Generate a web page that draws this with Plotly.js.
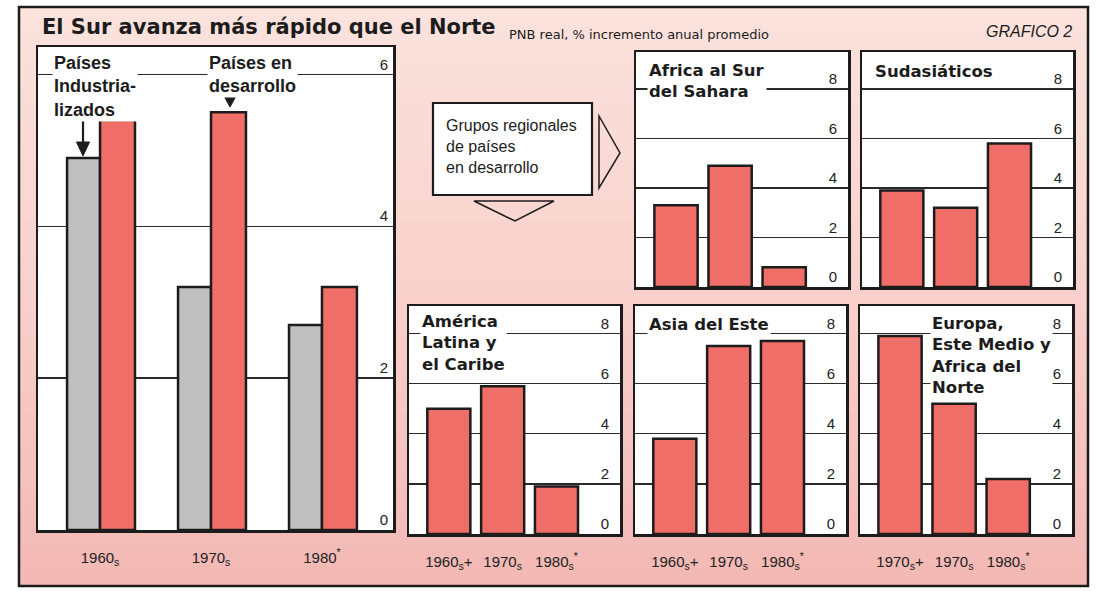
<!DOCTYPE html>
<html><head><meta charset="utf-8">
<script src="https://cdn.plot.ly/plotly-3.0.1.min.js"></script>
<style>html,body{margin:0;padding:0;background:#fff;} #chart{width:1109px;height:591px;}</style>
</head><body><div id="chart"></div>
<script>
// ---------------- data ----------------
const mainCategories = ['1960s', '1970s', '1980*'];
const mainTickLabels = ['1960<sub>s</sub>', '1970<sub>s</sub>', '1980<sup>*</sup>'];
const paisesIndustrializados = [4.9, 3.2, 2.7];
const paisesEnDesarrollo = [5.4, 5.5, 3.2];

const regionCategories = ['1960s+', '1970s', '1980s*'];
const regionTickLabels = ['1960<sub>s</sub>+', '1970<sub>s</sub>', '1980<sub>s</sub><sup>*</sup>'];
const europaCategories = ['1970s+', '1970s', '1980s*'];
const europaTickLabels = ['1970<sub>s</sub>+', '1970<sub>s</sub>', '1980<sub>s</sub><sup>*</sup>'];

const africaSurSahara = [3.3, 4.9, 0.8];
const sudasiaticos = [3.9, 3.2, 5.8];
const americaLatinaCaribe = [5.0, 5.9, 1.9];
const asiaDelEste = [3.8, 7.5, 7.7];
const europaEsteMedioAfricaNorte = [7.9, 5.2, 2.2];

const mainTickVals = [0, 2, 4, 6];
const regionTickVals = [0, 2, 4, 6, 8];

// ---------------- layout helpers ----------------
const W = 1109, H = 591;
const px = v => v / W;
const py = v => 1 - v / H;

const RED = '#f06e68', GREY = '#c0c0c0', INK = '#1c1c1c';
const SANS = 'Liberation Sans, Arial, sans-serif';
const WIDE = 'DejaVu Sans, Verdana, sans-serif';

function xAxis(x0, x1, yId, range, cats, labels, showLabels) {
  return {
    domain: [px(x0), px(x1)], anchor: yId, type: 'category', range: range,
    tickvals: cats, ticktext: labels, showticklabels: showLabels,
    ticks: '', ticklabelstandoff: 12, showgrid: false, zeroline: false,
    showline: true, mirror: true, linecolor: INK, linewidth: 2.5,
    tickfont: {family: SANS, size: 15, color: '#222'}, fixedrange: true
  };
}
function yAxis(y0, y1, xId, range, vals, standoff) {
  return {
    domain: [py(y1), py(y0)], anchor: xId, range: range, side: 'right',
    tickvals: vals, ticktext: vals.map(String), ticks: '',
    ticklabelposition: 'inside', ticklabelshift: -10, ticklabelstandoff: standoff,
    ticklabeloverflow: 'allow',
    showgrid: true, gridcolor: '#2a2a2a', gridwidth: 1.3, zeroline: false,
    showline: true, mirror: true, linecolor: INK, linewidth: 2.5,
    tickfont: {family: SANS, size: 15, color: '#222'}, fixedrange: true
  };
}

const barLine = {color: INK, width: 2.5};
function regionBar(cats, vals, n) {
  return {type: 'bar', x: cats, y: vals, xaxis: 'x' + n, yaxis: 'y' + n,
          width: 0.8, marker: {color: RED, line: barLine}, hoverinfo: 'skip'};
}

const traces = [
  {type: 'bar', x: mainCategories, y: paisesIndustrializados, xaxis: 'x', yaxis: 'y',
   width: 0.297, offset: -0.297, marker: {color: GREY, line: barLine}, hoverinfo: 'skip'},
  {type: 'bar', x: mainCategories, y: paisesEnDesarrollo, xaxis: 'x', yaxis: 'y',
   width: 0.315, offset: 0, marker: {color: RED, line: barLine}, hoverinfo: 'skip'},
  regionBar(regionCategories, africaSurSahara, 2),
  regionBar(regionCategories, sudasiaticos, 3),
  regionBar(regionCategories, americaLatinaCaribe, 4),
  regionBar(regionCategories, asiaDelEste, 5),
  regionBar(europaCategories, europaEsteMedioAfricaNorte, 6)
];

const smallRange = [-0.74, 3.18];
const layout = {
  width: W, height: H, autosize: false,
  margin: {l: 0, r: 0, t: 0, b: 0},
  paper_bgcolor: '#ffffff', plot_bgcolor: '#ffffff',
  showlegend: false, barmode: 'overlay', hovermode: false,
  title: {text: 'El Sur avanza más rápido que el Norte', x: px(42), xanchor: 'left', xref: 'paper',
          y: py(27), yanchor: 'middle', yref: 'container',
          font: {family: WIDE, size: 21, weight: 'bold', color: INK}},
  xaxis:  xAxis(38, 393, 'y', [-0.559, 2.64], mainCategories, mainTickLabels, true),
  yaxis:  yAxis(47, 530, 'x', [0, 6.36], mainTickVals, 5),
  xaxis2: xAxis(636, 848, 'y2', smallRange, regionCategories, regionTickLabels, false),
  yaxis2: yAxis(52, 287, 'x2', [0, 9.5], regionTickVals, 11),
  xaxis3: xAxis(862, 1073, 'y3', smallRange, regionCategories, regionTickLabels, false),
  yaxis3: yAxis(52, 287, 'x3', [0, 9.5], regionTickVals, 11),
  xaxis4: xAxis(409, 620, 'y4', smallRange, regionCategories, regionTickLabels, true),
  yaxis4: yAxis(306, 534, 'x4', [0, 9.1], regionTickVals, 11),
  xaxis5: xAxis(635, 846, 'y5', smallRange, regionCategories, regionTickLabels, true),
  yaxis5: yAxis(306, 534, 'x5', [0, 9.1], regionTickVals, 11),
  xaxis6: xAxis(860, 1072, 'y6', smallRange, europaCategories, europaTickLabels, true),
  yaxis6: yAxis(306, 534, 'x6', [0, 9.1], regionTickVals, 11),
  shapes: [], annotations: []
};

// pink paper with a soft vertical fade (decoration)
const cTop = [251, 227, 221], cMid = [248, 208, 203], cBot = [242, 184, 180];
const NB = 30, fy0 = 7, fy1 = 586;
for (let i = 0; i < NB; i++) {
  const t = (i + 0.5) / NB;
  const a = t < 0.5 ? cTop : cMid, b = t < 0.5 ? cMid : cBot, u = t < 0.5 ? t * 2 : (t - 0.5) * 2;
  const c = a.map((v, k) => Math.round(v + (b[k] - v) * u));
  const y0 = fy0 + i * (fy1 - fy0) / NB, y1 = fy0 + (i + 1) * (fy1 - fy0) / NB + 0.6;
  layout.shapes.push({type: 'rect', xref: 'paper', yref: 'paper', layer: 'below',
    x0: px(19), x1: px(1088), y0: py(y1), y1: py(y0),
    fillcolor: `rgb(${c.join(',')})`, line: {width: 0}});
}
// white panel backgrounds
['x', 'x2', 'x3', 'x4', 'x5', 'x6'].forEach((xa, i) => {
  const ya = 'y' + (i === 0 ? '' : i + 1);
  layout.shapes.push({type: 'rect', xref: xa + ' domain', yref: ya + ' domain', layer: 'below',
    x0: 0, x1: 1, y0: 0, y1: 1, fillcolor: '#ffffff', line: {width: 0}});
});
// outer frame
layout.shapes.push({type: 'rect', xref: 'paper', yref: 'paper', layer: 'below',
  x0: px(19), x1: px(1088), y0: py(586), y1: py(7), line: {color: INK, width: 2.5}});
// "Grupos regionales" box and its pointers
layout.shapes.push({type: 'rect', xref: 'paper', yref: 'paper', layer: 'below',
  x0: px(433), x1: px(592), y0: py(195), y1: py(103), fillcolor: '#ffffff', line: {color: INK, width: 2.2}});
layout.shapes.push({type: 'path', xref: 'paper', yref: 'paper', layer: 'below',
  path: `M ${px(599)} ${py(116)} L ${px(620)} ${py(153)} L ${px(599)} ${py(188)} Z`, line: {color: INK, width: 1.5}});
layout.shapes.push({type: 'path', xref: 'paper', yref: 'paper', layer: 'below',
  path: `M ${px(474)} ${py(201)} L ${px(554)} ${py(201)} L ${px(515)} ${py(221)} Z`, line: {color: INK, width: 1.5}});
// arrow to industrial bars and marker for developing bars
layout.shapes.push({type: 'line', xref: 'paper', yref: 'paper', layer: 'above',
  x0: px(83), x1: px(83), y0: py(118), y1: py(144), line: {color: INK, width: 2.2}});
layout.shapes.push({type: 'path', xref: 'paper', yref: 'paper', layer: 'above',
  path: `M ${px(76.5)} ${py(142)} L ${px(89.5)} ${py(142)} L ${px(83)} ${py(156)} Z`, fillcolor: INK, line: {color: INK, width: 1}});
layout.shapes.push({type: 'path', xref: 'paper', yref: 'paper', layer: 'above',
  path: `M ${px(224)} ${py(96)} L ${px(236)} ${py(96)} L ${px(230)} ${py(107)} Z`, fillcolor: INK, line: {color: INK, width: 1}});

function label(text, x, y, font, bg) {
  layout.annotations.push({text: text, xref: 'paper', yref: 'paper', x: px(x), y: py(y),
    xanchor: 'left', yanchor: 'top', align: 'left', showarrow: false,
    bgcolor: bg || 'rgba(0,0,0,0)', borderpad: 1, font: font});
}
const boldMain = {family: SANS, size: 18, weight: 'bold', color: INK};
const boldSmall = {family: WIDE, size: 16.5, weight: 'bold', color: INK};
label('Países<br>Industria-<br>lizados', 52, 51, boldMain, '#ffffff');
label('Países en<br>desarrollo', 207, 51, boldMain, '#ffffff');
label('Africa al Sur<br>del Sahara', 647, 59, boldSmall, '#ffffff');
label('Sudasiáticos', 873, 60, boldSmall, '#ffffff');
label('América<br>Latina y<br>el Caribe', 420, 310, boldSmall, '#ffffff');
label('Asia del Este', 647, 313, boldSmall, '#ffffff');
label('Europa,<br>Este Medio y<br>Africa del<br>Norte', 930, 312, boldSmall, '#ffffff');
label('Grupos regionales<br>de países<br>en desarrollo', 444, 115, {family: SANS, size: 16, color: INK});
label('PNB real, % incremento anual promedio', 507, 25, {family: WIDE, size: 13, color: INK});
layout.annotations.push({text: 'GRAFICO 2', xref: 'paper', yref: 'paper', x: px(1074), y: py(31),
  xanchor: 'right', yanchor: 'middle', showarrow: false,
  font: {family: SANS, size: 16, style: 'italic', color: INK}});

Plotly.newPlot('chart', traces, layout, {staticPlot: true, displayModeBar: false});
</script></body></html>
